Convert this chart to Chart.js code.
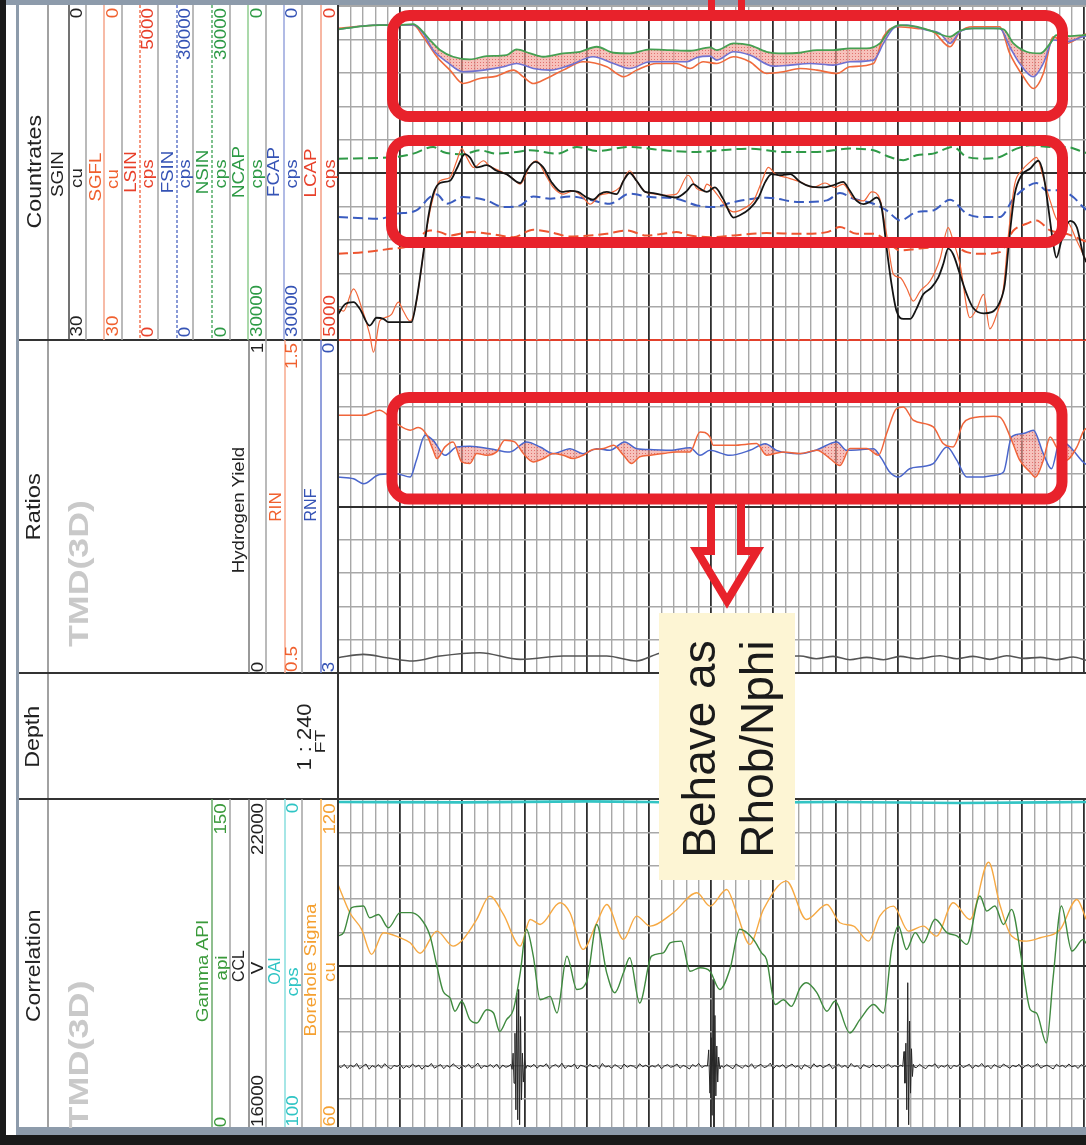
<!DOCTYPE html>
<html><head><meta charset="utf-8"><title>TMD(3D) log</title>
<script src="https://cdn.jsdelivr.net/npm/chart.js@4.4.1/dist/chart.umd.min.js"></script>
<style>
html,body{margin:0;padding:0;background:#fff}
#root{position:relative;width:1086px;height:1145px;overflow:hidden;background:#fff;font-family:"Liberation Sans",Arial,Helvetica,sans-serif}
#root canvas{position:absolute}
#deco{position:absolute;left:0;top:0}
.t{position:absolute;white-space:nowrap;line-height:1;transform-origin:50% 50%}
</style></head>
<body><div id="root">
<canvas id="cCor"></canvas><canvas id="cRat"></canvas><canvas id="cCnt"></canvas>
<svg id="deco" width="1086" height="1145" xmlns="http://www.w3.org/2000/svg"></svg>
</div>
<script>
// ================= DATA (depth in ft, relative; values in curve units) =================
const DEPTH_MIN = 0, DEPTH_MAX = 120.26;

// Countrates track
const SGIN = [[0,27.7],[1.1,26.8],[2.5,26.6],[3.5,27.2],[5.1,28.7],[6.2,28.0],[7.3,28.1],[8.1,28.4],[9.4,28.4],[11.8,28.4],[12.6,26.5],[13.7,22.3],[14.5,19.0],[15.3,16.9],[16.4,15.9],[18.0,15.7],[19.1,14.6],[20.4,13.3],[21.2,13.6],[22.3,14.5],[23.9,14.3],[25.5,14.8],[27.1,15.1],[29.3,15.9],[30.3,14.8],[31.7,14.0],[33.0,14.5],[34.3,15.8],[36.0,16.7],[37.3,16.6],[38.6,16.7],[40.0,17.2],[41.0,17.4],[42.1,16.9],[43.2,16.7],[44.8,16.9],[45.9,15.7],[46.9,15.0],[48.0,15.7],[49.4,16.7],[50.7,16.8],[52.3,17.0],[54.4,17.2],[56.1,16.6],[57.1,16.0],[58.2,16.4],[59.3,16.7],[60.6,16.3],[61.9,17.3],[63.6,19.0],[64.6,18.8],[66.2,18.2],[67.6,17.2],[68.7,15.8],[69.7,15.1],[71.1,15.2],[72.7,15.1],[74.3,15.8],[75.9,16.2],[78.0,16.3],[79.6,16.1],[81.2,15.8],[82.3,16.6],[83.4,17.5],[84.5,17.8],[85.5,17.6],[86.6,17.2],[87.4,18.1],[88.2,21.7],[89.0,25.0],[89.8,27.4],[90.9,28.1],[92.0,28.1],[93.0,27.2],[94.1,25.9],[95.4,25.3],[96.5,24.4],[97.3,23.2],[98.1,21.8],[98.9,22.3],[100.0,24.1],[101.1,25.9],[102.1,27.1],[103.8,27.6],[105.1,27.5],[106.4,26.6],[107.2,25.0],[108.0,20.5],[108.8,16.9],[109.9,15.2],[111.3,14.6],[112.6,13.9],[113.4,15.1],[114.2,18.1],[115.0,21.4],[115.5,22.6],[116.3,21.1],[117.7,19.3],[118.8,19.9],[119.8,22.3],[120.3,23.0]];
const SGFL = [[0,27.2],[0.9,27.4],[2.5,25.4],[3.8,27.1],[5.1,29.5],[5.7,31.1],[6.7,28.3],[7.5,28.0],[8.6,27.7],[9.7,26.6],[10.5,27.4],[11.6,28.3],[12.4,27.2],[13.2,24.4],[14.3,19.9],[15.3,17.2],[16.4,15.7],[18.0,15.4],[19.1,13.9],[19.9,12.8],[20.7,13.6],[21.8,14.5],[23.4,13.9],[24.4,14.4],[26.0,14.8],[27.9,15.4],[29.3,16.0],[30.9,14.3],[31.9,13.9],[33.3,15.1],[34.6,16.3],[36.2,16.9],[37.8,16.6],[39.4,17.2],[40.5,17.8],[42.1,17.0],[43.7,16.8],[45.3,16.3],[46.9,14.8],[48.0,15.7],[49.4,16.7],[51.2,16.9],[52.8,17.0],[54.4,16.9],[56.3,15.2],[57.7,16.4],[58.7,16.6],[59.3,16.0],[60.9,16.9],[62.5,18.1],[63.6,18.5],[65.2,18.2],[66.8,17.5],[68.1,15.8],[69.2,14.5],[70.3,15.1],[72.1,15.4],[74.3,15.8],[76.4,16.3],[78.3,15.9],[79.9,16.3],[81.2,16.0],[82.9,17.3],[84.5,17.5],[85.8,16.7],[87.1,17.3],[88.2,20.5],[89.3,24.1],[90.4,24.4],[91.4,25.3],[92.5,26.5],[93.6,25.6],[95.2,24.7],[96.8,22.7],[98.1,19.9],[98.9,21.1],[100.0,23.2],[101.6,28.0],[102.7,27.2],[103.8,25.9],[104.8,29.0],[105.9,27.7],[107.0,25.3],[107.8,20.5],[108.8,16.0],[109.9,14.8],[111.3,14.0],[112.3,13.6],[113.4,15.4],[114.5,17.5],[115.8,19.3],[117.1,19.3],[118.8,21.1],[119.8,22.3],[120.3,23.0]];
const NSIN = [[0,16290],[9.4,16440],[12.1,16740],[15.3,17340],[16.9,16890],[20.1,16680],[22.8,17040],[25.5,16740],[28.7,16890],[30.9,17040],[35.2,16740],[38.4,17340],[41.6,16980],[46.9,17340],[52.3,17040],[57.7,16890],[61.4,17040],[66.2,17190],[71.6,16890],[77.0,16890],[82.3,17190],[86.1,17040],[88.7,16440],[90.9,16140],[93.0,16590],[95.7,16740],[98.9,17340],[101.1,16440],[103.8,16290],[106.4,16440],[109.1,17190],[111.3,17490],[114.5,17340],[117.1,17340],[119.8,16890],[120.3,16800]];
const FSIN = [[0,11040],[6.7,10890],[9.4,11340],[12.6,11640],[14.8,12840],[15.9,13080],[17.5,12240],[20.1,12840],[23.9,12540],[26.6,11940],[29.3,12090],[31.4,12900],[34.1,12690],[37.3,12900],[40.5,12600],[43.7,12240],[46.9,13140],[50.2,12840],[54.4,12690],[57.7,12090],[60.3,11940],[63.6,12390],[68.9,12780],[74.3,12390],[78.6,12540],[80.7,13200],[82.9,12690],[86.1,12240],[88.2,11640],[90.4,10740],[93.0,11490],[95.7,11640],[98.4,12600],[101.1,11340],[103.8,11040],[106.4,11040],[108.6,12690],[110.7,13740],[112.3,14100],[113.9,13440],[116.1,13440],[118.2,12840],[119.8,11940],[120.3,11700]];
const LSIN = [[0,1290],[4.1,1315],[8.4,1365],[11.6,1415],[14.8,1640],[16.4,1615],[18.0,1565],[21.2,1615],[24.4,1590],[28.2,1540],[31.4,1650],[34.1,1615],[37.3,1550],[40.5,1565],[43.2,1590],[46.4,1640],[49.6,1565],[52.3,1590],[54.4,1615],[56.6,1565],[59.8,1540],[63.6,1565],[68.9,1600],[74.3,1590],[78.6,1615],[80.7,1690],[83.4,1590],[86.1,1590],[88.2,1490],[90.4,1340],[93.0,1365],[95.7,1390],[98.4,1440],[101.1,1315],[103.8,1290],[106.4,1315],[108.6,1640],[110.7,1740],[112.3,1790],[114.5,1640],[117.1,1590],[119.8,1490],[120.3,1470]];
const NCAP = [[0,2100],[4.1,1800],[6.7,1710],[9.4,1710],[12.1,1620],[13.4,2160],[14.8,3060],[16.4,3960],[18.5,4560],[21.2,4800],[23.9,4500],[27.1,4410],[28.7,3900],[30.9,4260],[33.0,4560],[36.2,4260],[38.9,4110],[41.6,3660],[44.3,4200],[46.9,4260],[50.2,3900],[53.4,3960],[56.6,4020],[59.8,3720],[60.9,3960],[63.6,3360],[66.2,3510],[68.9,4110],[71.6,4260],[74.3,4200],[77.0,3960],[79.6,3960],[82.3,3810],[85.0,3810],[87.1,3360],[88.7,2160],[90.4,1710],[93.0,1860],[95.7,2310],[98.4,2760],[100.0,2220],[102.1,2010],[105.4,2010],[107.0,2100],[108.6,3360],[110.7,4110],[112.9,4260],[114.5,3360],[115.5,2610],[117.7,2700],[119.8,2610],[120.3,2580]];
const FCAP = [[0,2100],[4.1,1800],[6.7,1710],[9.4,1710],[12.1,1710],[13.7,2460],[15.3,3960],[17.5,5010],[20.1,5910],[23.4,5760],[26.6,5460],[28.7,5160],[31.4,5610],[34.1,5760],[37.3,5310],[41.0,4560],[44.3,5160],[46.9,5610],[50.2,5010],[53.4,5010],[56.1,5010],[57.7,4620],[59.8,4500],[60.9,4860],[63.6,4110],[66.2,4410],[70.0,5400],[72.7,5310],[75.9,5160],[79.6,5310],[82.3,5010],[86.1,4860],[87.7,3360],[89.3,2010],[91.4,1710],[94.6,2160],[96.8,2460],[98.4,3360],[100.0,2310],[102.1,2010],[106.4,2010],[108.0,3660],[109.6,5160],[111.8,6360],[113.4,5160],[115.0,3060],[117.1,3210],[119.8,2760],[120.3,2700]];
const LCAP = [[0,335],[4.1,300],[6.7,285],[9.4,285],[12.1,285],[13.7,460],[15.9,760],[18.0,960],[20.1,1160],[22.8,1085],[25.5,1050],[28.2,960],[29.8,1060],[31.4,1160],[33.5,1085],[36.2,960],[39.4,835],[43.2,910],[45.9,1060],[48.0,960],[51.2,860],[54.4,860],[56.6,935],[58.7,835],[60.9,860],[63.6,760],[66.2,835],[68.9,1010],[71.6,985],[74.3,935],[77.0,960],[80.2,1010],[82.3,910],[86.1,860],[87.7,460],[89.8,310],[93.0,335],[95.7,385],[98.4,610],[100.0,385],[102.1,310],[106.4,310],[108.0,710],[110.2,1060],[111.8,1235],[113.4,1010],[115.0,460],[117.1,560],[119.8,435],[120.3,420]];

// Ratios track
const RIN = [[0,1.274],[4.1,1.274],[6.7,1.289],[9.4,1.249],[11.6,1.229],[12.9,1.237],[14.3,1.214],[15.3,1.169],[15.9,1.144],[17.2,1.179],[18.5,1.194],[19.9,1.134],[21.2,1.129],[22.3,1.159],[23.9,1.154],[25.5,1.164],[26.8,1.199],[28.4,1.194],[29.8,1.159],[31.4,1.134],[33.0,1.144],[34.6,1.159],[36.2,1.154],[37.8,1.144],[39.4,1.154],[41.0,1.171],[42.7,1.174],[44.3,1.184],[45.9,1.154],[47.2,1.129],[48.5,1.149],[50.2,1.154],[52.3,1.159],[54.4,1.164],[56.6,1.164],[58.2,1.224],[59.8,1.209],[60.3,1.184],[63.6,1.184],[67.3,1.189],[68.9,1.154],[71.6,1.164],[74.3,1.159],[77.0,1.169],[79.1,1.144],[80.7,1.123],[82.3,1.174],[85.0,1.174],[86.9,1.154],[88.2,1.219],[89.8,1.294],[90.9,1.299],[92.5,1.259],[95.7,1.239],[97.3,1.189],[98.9,1.179],[100.5,1.249],[101.6,1.264],[105.4,1.271],[106.4,1.269],[108.3,1.199],[109.6,1.139],[111.3,1.103],[112.1,1.088],[113.4,1.139],[114.5,1.209],[115.5,1.179],[117.1,1.139],[118.8,1.179],[119.8,1.224],[120.3,1.235]];
const RNF = [[0,1.235],[2.5,1.250],[4.1,1.295],[6.7,1.211],[9.4,1.205],[11.6,1.235],[12.6,1.084],[14.0,0.858],[15.3,0.904],[17.2,1.039],[19.1,0.964],[21.2,0.958],[24.4,0.979],[27.6,1.009],[30.3,0.919],[32.5,0.964],[34.6,1.024],[37.3,0.979],[39.4,1.024],[41.6,0.979],[43.7,0.994],[46.1,0.919],[48.0,0.979],[50.7,0.988],[53.4,0.994],[56.6,0.970],[58.2,1.039],[59.8,0.994],[63.0,1.039],[66.2,0.994],[68.7,0.934],[70.5,0.994],[74.3,1.024],[77.0,0.988],[80.2,0.919],[81.8,0.994],[83.9,0.988],[86.1,0.979],[87.4,1.069],[88.7,1.190],[90.1,1.235],[91.9,1.160],[94.1,1.139],[95.7,1.114],[97.9,0.964],[99.5,1.084],[101.1,1.235],[103.2,1.235],[105.4,1.220],[107.0,1.190],[108.3,0.873],[110.2,0.843],[111.8,0.813],[113.4,1.024],[114.7,1.160],[116.1,0.904],[117.7,0.964],[119.8,1.099],[120.3,1.120]];
const HYDROGEN_YIELD = [[0,0.046],[4.1,0.056],[7.8,0.046],[12.1,0.036],[16.4,0.051],[22.8,0.061],[29.3,0.041],[36.2,0.051],[43.2,0.051],[48.0,0.036],[52.3,0.061],[63.0,0.050],[74.3,0.051],[76.9,0.043],[79.6,0.050],[82.3,0.040],[85.0,0.047],[87.7,0.040],[90.4,0.050],[93.0,0.043],[96.8,0.052],[99.5,0.043],[102.1,0.050],[104.8,0.041],[107.5,0.052],[110.2,0.044],[112.9,0.047],[115.5,0.040],[118.2,0.048],[120.3,0.038]];

// Correlation track
const GAMMA_API = [[0,88.3],[0.9,89.8],[2.2,101.1],[4.1,101.8],[5.1,96.5],[6.5,98.0],[8.1,92.0],[10.0,98.8],[11.6,98.8],[13.2,96.5],[14.8,88.3],[15.9,74.7],[16.9,63.4],[18.0,60.4],[18.8,54.4],[19.9,58.9],[21.2,50.6],[22.3,49.1],[23.9,55.1],[25.0,53.6],[26.0,45.3],[27.1,50.6],[28.2,55.1],[29.3,71.7],[30.3,91.3],[31.4,79.2],[32.5,59.6],[34.1,61.1],[35.2,53.6],[36.8,79.2],[38.4,64.2],[40.0,67.9],[41.6,93.5],[43.2,71.7],[44.5,62.7],[45.9,71.7],[46.9,78.5],[48.5,58.1],[50.4,79.2],[52.3,80.7],[53.4,85.2],[55.2,86.0],[56.6,72.4],[58.2,74.0],[59.8,72.4],[61.4,64.2],[63.0,73.2],[64.6,91.3],[66.8,86.7],[68.1,80.7],[68.9,77.7],[70.3,57.4],[71.6,59.6],[72.9,56.6],[74.3,64.9],[75.3,67.2],[77.0,62.7],[78.6,54.4],[79.9,58.9],[82.3,44.6],[83.9,50.6],[86.1,57.4],[87.7,53.6],[89.0,82.2],[90.1,92.8],[91.4,82.2],[92.8,89.8],[94.1,85.2],[96.0,95.8],[97.9,89.8],[99.5,88.3],[101.1,84.5],[103.2,106.3],[104.3,99.5],[105.6,101.8],[107.0,93.5],[108.3,100.3],[109.9,77.7],[111.3,55.1],[112.3,53.6],[113.9,40.1],[115.0,70.2],[116.3,101.8],[118.0,81.5],[119.8,86.7],[120.3,85.0]];
const BOREHOLE_SIGMA = [[0,104.6],[1.9,99.5],[3.8,96.5],[5.4,92.0],[7.3,95.9],[10.0,95.0],[11.6,94.1],[13.2,92.2],[15.9,96.2],[18.5,93.5],[20.1,94.7],[22.3,98.3],[24.4,102.5],[26.6,99.2],[29.3,93.5],[30.9,98.3],[32.5,97.4],[35.7,101.3],[37.3,99.5],[39.4,92.9],[41.6,97.7],[43.2,101.0],[45.9,94.7],[48.0,98.9],[50.2,97.1],[53.9,99.5],[57.7,103.1],[59.8,100.7],[62.5,103.7],[64.1,99.5],[66.2,93.8],[68.4,100.1],[72.1,105.2],[75.3,98.3],[78.6,101.0],[80.7,97.7],[82.9,97.1],[85.3,94.4],[87.1,98.9],[89.3,100.7],[91.7,96.2],[94.1,97.1],[96.2,95.3],[98.9,101.3],[101.6,98.3],[104.6,108.6],[106.4,101.0],[108.3,95.3],[110.7,94.4],[112.9,95.0],[116.1,96.5],[118.8,101.9],[120.3,98.3]];
const CCL = [[0,17190],[0.5,17160],[1,17220],[1.5,17145],[2,17205],[2.5,17170],[3,17235],[3.5,17140],[4,17185],[4.5,17225],[5,17130],[5.5,17195],[6,17165],[6.5,17215],[7,17150],[7.5,17230],[8,17175],[8.5,17135],[9,17200],[9.5,17180],[10,17220],[10.5,17145],[11,17190],[11.5,17160],[12,17225],[12.5,17170],[13,17205],[13.5,17130],[14,17195],[14.5,17175],[15,17235],[15.5,17150],[16,17185],[16.5,17215],[17,17140],[17.5,17200],[18,17165],[18.5,17230],[19,17180],[19.5,17135],[20,17205],[20.5,17170],[21,17220],[21.5,17150],[22,17190],[22.5,17240],[23,17145],[23.5,17195],[24,17175],[24.5,17215],[25,17160],[25.5,17225],[26,17140],[26.5,17205],[27,17165],[27.5,17190],
[27.8,17220],[28.0,17130],[28.15,17420],[28.3,16880],[28.45,17780],[28.6,16400],[28.75,18500],[28.9,16220],[29.05,18570],[29.2,16130],[29.35,18080],[29.5,16580],[29.65,17420],[29.8,16900],[30.0,17300],[30.2,17145],[30.4,17200],
[31,17170],[31.5,17220],[32,17150],[32.5,17200],[33,17180],[33.5,17230],[34,17140],[34.5,17190],[35,17215],[35.5,17165],[36,17240],[36.5,17145],[37,17195],[37.5,17175],[38,17225],[38.5,17135],[39,17205],[39.5,17185],[40,17160],[40.5,17220],[41,17175],[41.5,17200],[42,17140],[42.5,17235],[43,17170],[43.5,17190],[44,17150],[44.5,17215],[45,17180],[45.5,17135],[46,17225],[46.5,17165],[47,17200],[47.5,17185],[48,17145],[48.5,17230],[49,17175],[49.5,17205],[50,17160],[50.5,17195],[51,17170],[51.5,17220],[52,17140],[52.5,17190],[53,17215],[53.5,17165],[54,17185],[54.5,17225],[55,17150],[55.5,17200],[56,17175],[56.5,17135],[57,17215],[57.5,17180],[58,17235],[58.5,17160],[59,17195],
[59.4,17190],[59.6,17480],[59.8,16700],[60.0,17700],[60.15,16300],[60.3,18750],[60.45,16070],[60.6,18100],[60.75,16650],[60.9,17550],[61.05,16900],[61.2,17350],[61.4,17135],[61.6,17190],
[62,17165],[62.5,17215],[63,17175],[63.5,17140],[64,17225],[64.5,17185],[65,17150],[65.5,17205],[66,17170],[66.5,17230],[67,17145],[67.5,17190],[68,17220],[68.5,17160],[69,17180],[69.5,17240],[70,17140],[70.5,17200],[71,17175],[71.5,17215],[72,17150],[72.5,17190],[73,17225],[73.5,17165],[74,17195],[74.5,17130],[75,17215],[75.5,17180],[76,17145],[76.5,17230],[77,17170],[77.5,17205],[78,17160],[78.5,17190],[79,17225],[79.5,17140],[80,17185],[80.5,17220],[81,17165],[81.5,17200],[82,17150],[82.5,17235],[83,17175],[83.5,17195],[84,17135],[84.5,17215],[85,17180],[85.5,17160],[86,17225],[86.5,17170],[87,17205],[87.5,17145],[88,17190],[88.5,17220],[89,17165],[89.5,17195],[90,17175],[90.5,17205],
[90.8,17180],[91.0,17450],[91.15,16880],[91.3,17600],[91.45,16400],[91.6,18690],[91.75,16130],[91.9,18000],[92.05,16700],[92.2,17500],[92.35,17000],[92.5,17220],[92.7,17165],
[93,17160],[93.5,17220],[94,17175],[94.5,17140],[95,17205],[95.5,17185],[96,17230],[96.5,17150],[97,17195],[97.5,17170],[98,17215],[98.5,17135],[99,17200],[99.5,17180],[100,17225],[100.5,17160],[101,17190],[101.5,17220],[102,17145],[102.5,17205],[103,17175],[103.5,17235],[104,17165],[104.5,17195],[105,17140],[105.5,17215],[106,17180],[106.5,17160],[107,17225],[107.5,17185],[108,17150],[108.5,17200],[109,17175],[109.5,17220],[110,17140],[110.5,17190],[111,17215],[111.5,17165],[112,17195],[112.5,17230],[113,17150],[113.5,17185],[114,17205],[114.5,17170],[115,17135],[115.5,17220],[116,17180],[116.5,17200],[117,17160],[117.5,17225],[118,17175],[118.5,17195],[119,17145],[119.5,17215],[120,17180],[120.3,17190]];
const OAI = [[0,0.9],[20,1.0],[40,0.7],[60,1.1],[80,0.9],[100,1.2],[120.3,0.9]];

// ================= helpers =================
const root = document.getElementById('root');
const svg = document.getElementById('deco');
const NS = 'http://www.w3.org/2000/svg';
function sv(tag, attrs){ const e=document.createElementNS(NS,tag); for(const k in attrs) e.setAttribute(k, attrs[k]); svg.appendChild(e); return e; }
function ln(x1,y1,x2,y2,c,w,dash){ const a={x1,y1,x2,y2,stroke:c,'stroke-width':w}; if(dash) a['stroke-dasharray']=dash; sv('line',a); }
function pts(a){ return a.map(p=>({x:p[0], y:p[1]})); }
function mkCanvas(id,left,top,w,h){ const c=document.getElementById(id); c.width=w; c.height=h; c.style.left=left+'px'; c.style.top=top+'px'; c.style.width=w+'px'; c.style.height=h+'px'; return c; }
function hatch(ctx){ const c=document.createElement('canvas'); c.width=3; c.height=3; const x=c.getContext('2d'); x.fillStyle='rgba(242,155,145,0.62)'; x.fillRect(0,0,3,3); x.fillStyle='rgba(218,85,85,0.75)'; x.fillRect(0,0,1,1); return ctx.createPattern(c,'repeat'); }

const isMajor = v => Math.abs(v/10 - Math.round(v/10)) < 1e-6;
const MAJ='#2f2f2f', MIN='#a8a8a8';
function xScale(){ return { type:'linear', min:DEPTH_MIN, max:DEPTH_MAX, position:'bottom',
  ticks:{display:false, stepSize:2, includeBounds:false, autoSkip:false},
  grid:{drawTicks:false, color:c=>isMajor(c.tick.value)?MAJ:MIN, lineWidth:c=>isMajor(c.tick.value)?1.8:1.4},
  border:{display:false}, afterFit:s=>{s.height=0;} }; }
function gScale(topC, botC){ return { type:'linear', position:'left', min:0, max:10,
  ticks:{display:false, stepSize:1, autoSkip:false},
  grid:{drawTicks:false, color:c=>{const v=c.tick.value; if(v===10) return topC; if(v===0) return botC; return v===5?MAJ:MIN;},
        lineWidth:c=>{const v=c.tick.value; return (v===5||v===0||v===10)?2:1.4;}},
  border:{display:false}, afterFit:s=>{s.width=0;} }; }
function hid(min,max,rev){ return {type:'linear', display:false, min, max, reverse:!!rev}; }
function opts(pad, scales){ return { responsive:false, maintainAspectRatio:false, animation:false, devicePixelRatio:1, events:[],
  layout:{padding:pad},
  plugins:{legend:{display:false}, tooltip:{enabled:false}, filler:{drawTime:'beforeDatasetsDraw', propagate:false}},
  elements:{point:{radius:0}},
  scales: scales }; }
function ds(data, axis, color, width, extra){ return Object.assign({data:pts(data), yAxisID:axis, borderColor:color, borderWidth:width, pointRadius:0, fill:false, cubicInterpolationMode:'monotone'}, extra||{}); }

// ================= charts =================
const cC = mkCanvas('cCnt',330,2,756,354);
const patC = hatch(cC.getContext('2d'));
new Chart(cC, { type:'line', data:{datasets:[
  ds(SGIN,'ySGIN','#141414',1.8),
  ds(SGFL,'ySGFL','#f2683a',1.2,{clip:false}),
  ds(NSIN,'yNSIN','#2f9a47',2,{borderDash:[10,5]}),
  ds(FSIN,'yFSIN','#3a5cc0',2,{borderDash:[10,5]}),
  ds(LSIN,'yLSIN','#ee5530',2,{borderDash:[10,5]}),
  ds(NCAP,'yNCAP','#45a052',1.8,{fill:{target:6, above:patC, below:patC}}),
  ds(FCAP,'yFCAP','#6f72d2',1.6),
  ds(LCAP,'yLCAP','#f06a3c',1.6)
]}, options: opts({left:8,top:4,right:0,bottom:16}, {
  x:xScale(), g:gScale(MIN,'rgba(0,0,0,0)'),
  ySGIN:hid(0,30,true), ySGFL:hid(0,30,true), yLSIN:hid(0,5000), yFSIN:hid(0,30000), yNSIN:hid(0,30000),
  yNCAP:hid(0,30000,true), yFCAP:hid(0,30000,true), yLCAP:hid(0,5000,true)
})});

const cR = mkCanvas('cRat',330,336,756,341);
const patR = hatch(cR.getContext('2d'));
new Chart(cR, { type:'line', data:{datasets:[
  ds(RIN,'yRIN','#f0653a',1.5,{fill:{target:1, above:'rgba(0,0,0,0)', below:patR}}),
  ds(RNF,'yRNF','#4a66cc',1.5),
  ds(HYDROGEN_YIELD,'yHY','#555555',1.6)
]}, options: opts({left:8,top:4,right:0,bottom:4}, {
  x:xScale(), g:gScale('#e2412c',MAJ),
  yRIN:hid(0.5,1.5), yRNF:hid(0,3,true), yHY:hid(0,1)
})});

const cK = mkCanvas('cCor',330,795,756,341);
new Chart(cK, { type:'line', data:{datasets:[
  ds(GAMMA_API,'yGR','#3f8a3f',1.4),
  ds(BOREHOLE_SIGMA,'yBS','#f6a943',1.4),
  ds(CCL,'yCCL','#262626',1.0,{cubicInterpolationMode:'default', tension:0}),
  ds(OAI,'yOAI','#33c4c4',2.6)
]}, options: opts({left:8,top:4,right:0,bottom:4}, {
  x:xScale(), g:gScale(MAJ,MIN),
  yGR:hid(0,150), yBS:hid(60,120), yCCL:hid(16000,22000), yOAI:hid(0,100,true)
})});

// ================= header / frame decoration =================
const SEP='#a3a3a3';
ln(48,5,48,1127,'#8a8a8a',1.6);
ln(338,5,338,1127,'#333',2);
ln(17,340,338,340,'#333',2);
ln(17,673,1086,673,'#333',2);
ln(17,799,1086,799,'#333',2);
// countrates header
[86,122,158,193,230,266,302].forEach(x=>ln(x,5,x,340,SEP,1.5));
ln(69,5,69,340,'#444',1.5);
ln(104,5,104,340,'#f5a58a',1.5);
ln(140,5,140,340,'#f0603a',1.3,'3 2');
ln(177,5,177,340,'#4a64c0',1.3,'3 2');
ln(212,5,212,340,'#3aa050',1.3,'3 2');
ln(248,5,248,340,'#8fcc8f',1.5);
ln(284,5,284,340,'#97a5dd',1.5);
ln(321,5,321,340,'#f59f85',1.5);
// ratios header
[266,302].forEach(x=>ln(x,340,x,673,SEP,1.5));
ln(249,340,249,673,'#777',1.5);
ln(285,340,285,673,'#f7a88c',1.5);
ln(321,340,321,673,'#6c7fd0',1.5);
// correlation header
[230,266,302].forEach(x=>ln(x,799,x,1127,SEP,1.5));
ln(212,799,212,1127,'#6aaa6a',1.5);
ln(249,799,249,1127,'#777',1.5);
ln(285,799,285,1127,'#88dede',1.5);
ln(321,799,321,1127,'#f6b35a',1.5);
// frame
sv('rect',{x:6,y:0,width:1080,height:5,fill:'#8d9bab'});
sv('rect',{x:16,y:0,width:3,height:1134,fill:'#8d9bab'});
sv('rect',{x:16,y:1127,width:1070,height:8,fill:'#8d9bab'});
sv('rect',{x:0,y:0,width:6,height:1145,fill:'#1a1a1a'});
sv('rect',{x:0,y:1135,width:1086,height:10,fill:'#1a1a1a'});
// annotations
const RED='#e8222b';
sv('rect',{x:392.5,y:15.5,width:670,height:101,rx:17,fill:'none',stroke:RED,'stroke-width':11});
sv('rect',{x:391.5,y:140.5,width:671,height:102,rx:17,fill:'none',stroke:RED,'stroke-width':11});
sv('rect',{x:392,y:397.5,width:670,height:101.5,rx:17,fill:'none',stroke:RED,'stroke-width':11});
ln(711.5,0,711.5,11,RED,7); ln(741.5,0,741.5,11,RED,7);
sv('path',{d:'M711 503 L711 551 L697 551 L727 601 L757 551 L741 551 L741 503',fill:'none',stroke:RED,'stroke-width':8,'stroke-linejoin':'miter'});
sv('rect',{x:659,y:613,width:136,height:267,fill:'#fdf5d4'});

// ================= texts =================
function txt(s,cx,y,anchor,size,color,o){ o=o||{};
  const d=document.createElement('div'); d.className='t'; d.textContent=s;
  d.style.fontSize=size+'px'; d.style.color=color; if(o.bold) d.style.fontWeight='bold';
  root.appendChild(d);
  const w=d.offsetWidth, h=d.offsetHeight;
  const sc = o.len ? o.len/w : (o.sc||1.17);
  const L=w*sc;
  const cy = anchor==='t' ? y+L/2 : anchor==='b' ? y-L/2 : y;
  d.style.left=(cx-w/2)+'px'; d.style.top=(cy-h/2)+'px';
  d.style.transform='rotate(-90deg) scaleX('+sc+')';
}
const K='#222', OR='#f0602e', BL='#3553b5', GR='#2d9a45', CY='#2ec4c4', YO='#f5a030', GY='#c9c9c9';
const TOP1=8, BOT1=337, TOP2=343, BOT2=672, TOP3=803, BOT3=1127;
// Countrates
txt('Countrates',34,172,'c',19.5,K,{len:113});
txt('SGIN',57.5,174,'c',16,K);  txt('cu',77,178,'c',16,K);  txt('0',77,TOP1,'t',16,K);  txt('30',77,BOT1,'b',16,K);
txt('SGFL',96,177,'c',16,OR);  txt('cu',113,179,'c',16,OR); txt('0',113,TOP1,'t',16,OR); txt('30',113,BOT1,'b',16,OR);
txt('LSIN',131,172,'c',16,'#e8402a'); txt('cps',148,174,'c',16,'#e8402a'); txt('5000',148,TOP1,'t',16,'#e8402a'); txt('0',148,BOT1,'b',16,'#e8402a');
txt('FSIN',167.5,172,'c',16,BL); txt('cps',185,174,'c',16,BL); txt('30000',185,TOP1,'t',16,BL); txt('0',185,BOT1,'b',16,BL);
txt('NSIN',202.5,172,'c',16,GR); txt('cps',221,174,'c',16,GR); txt('30000',221,TOP1,'t',16,GR); txt('0',221,BOT1,'b',16,GR);
txt('NCAP',239,172,'c',16,GR); txt('cps',257.5,174,'c',16,GR); txt('0',257.5,TOP1,'t',16,GR); txt('30000',257.5,BOT1,'b',16,GR);
txt('FCAP',274.5,172,'c',16,BL); txt('cps',292.5,174,'c',16,BL); txt('0',292.5,TOP1,'t',16,BL); txt('30000',292.5,BOT1,'b',16,BL);
txt('LCAP',311,173,'c',16,'#e8402a'); txt('cps',330,174,'c',16,'#e8402a'); txt('0',330,TOP1,'t',16,'#e8402a'); txt('5000',330,BOT1,'b',16,'#e8402a');
// Ratios
txt('Ratios',33,507,'c',19.5,K,{len:67});
txt('TMD(3D)',79,573,'c',27,GY,{bold:true,len:147});
txt('Hydrogen Yield',239,510,'c',16,K,{len:127});
txt('1',258,TOP2,'t',16,K); txt('0',258,BOT2,'b',16,K);
txt('RIN',276,507,'c',16,OR,{len:30}); txt('1.5',292,TOP2,'t',16,OR); txt('0.5',292,BOT2,'b',16,OR);
txt('RNF',311,505,'c',16,BL,{len:33}); txt('0',329,TOP2,'t',16,BL); txt('3',329,BOT2,'b',16,BL);
// Depth
txt('Depth',33,737,'c',19.5,K,{len:62});
txt('1 : 240',303.5,737,'c',20,K,{len:67});
txt('FT',319,741,'c',15,K,{len:23});
// Correlation
txt('Correlation',33,966,'c',19.5,K,{len:112});
txt('TMD(3D)',79,1054,'c',27,GY,{bold:true,len:148});
txt('Gamma API',202.5,971,'c',16,'#3a9a3a',{len:102}); txt('api',221,968,'c',16,'#3a9a3a');
txt('150',221,TOP3,'t',16,'#3a9a3a'); txt('0',221,BOT3,'b',16,'#3a9a3a');
txt('CCL',239,966,'c',16,K,{len:32}); txt('V',258,968,'c',16,K);
txt('22000',258,TOP3,'t',16,K); txt('16000',258,BOT3,'b',16,K);
txt('OAI',275,971,'c',16,CY,{len:28}); txt('cps',293,982,'c',16,CY);
txt('0',293,TOP3,'t',16,CY); txt('100',293,BOT3,'b',16,CY);
txt('Borehole Sigma',311,970,'c',16,YO,{len:133}); txt('cu',330,972,'c',16,YO);
txt('120',330,TOP3,'t',16,YO); txt('60',330,BOT3,'b',16,YO);
// Callout
txt('Behave as',698.5,857,'b',46,'#1a1a1a',{sc:1});
txt('Rhob/Nphi',756.5,857,'b',46,'#1a1a1a',{sc:1});
</script></body></html>
